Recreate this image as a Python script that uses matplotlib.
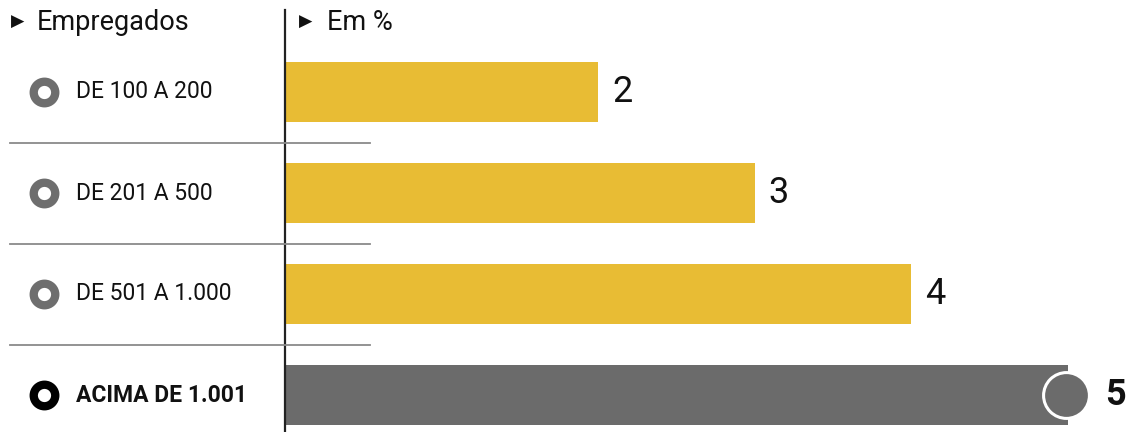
import numpy as np
import matplotlib.pyplot as plt
from matplotlib.transforms import blended_transform_factory

categories = ["DE 100 A 200", "DE 201 A 500", "DE 501 A 1.000", "ACIMA DE 1.001"]
values = [2, 3, 4, 5]
highlight = [False, False, False, True]

yellow = "#E8BC34"
grey = "#6B6B6B"
ring_grey = "#6E6E6E"

plt.rcParams['font.family'] = ['Roboto', 'DejaVu Sans']

fig = plt.figure(figsize=(11.3, 4.32), dpi=100)
ax = fig.add_axes([285/1130, 0, 845/1130, 1])
ax.set_xlim(0, 845/156.5)
ax.set_ylim((432-92)/101, -92/101)
ax.axis("off")

ypos = np.arange(len(values))
colors = [grey if h else yellow for h in highlight]
ax.barh(ypos, values, height=0.585, color=colors, left=0)

# axis line
ax.plot([0, 0], [-82/101, 3.4], color="#222222", lw=1.6, clip_on=False)

ftrans = blended_transform_factory(fig.transFigure, ax.transData)
for i in range(len(values) - 1):
    ax.plot([10/1130, 370/1130], [i + 0.5, i + 0.5], color="#8a8a8a", lw=1.3,
            transform=ftrans, clip_on=False)

for i, (cat, v, h) in enumerate(zip(categories, values, highlight)):
    ax.plot([44/1130], [i], marker="o", ms=15.5, mew=6.0, mfc="white",
            mec="black" if h else ring_grey, transform=ftrans, clip_on=False)
    ax.text(76/1130, i, cat, transform=ftrans, va="center", ha="left",
            fontsize=16.5, color="#111111", fontweight="bold" if h else "normal")
    if h:
        ax.plot([v - 0.012], [i], marker="o", ms=33, mfc=grey, mec="white", mew=2.2)
        ax.annotate(str(v), (v, i), xytext=(27, 0), textcoords="offset points",
                    va="center", ha="left", fontsize=26, fontweight="bold", color="#111111")
    else:
        ax.annotate(str(v), (v, i), xytext=(10, 0), textcoords="offset points",
                    va="center", ha="left", fontsize=26, color="#111111")

hy = 1 - 22/432
fig.text(11/1130, hy, "▶", va="center", ha="left", fontsize=12.5, color="#111111",
         family="DejaVu Sans")
fig.text(37/1130, hy, "Empregados", va="center", ha="left", fontsize=19.5, color="#111111")
fig.text(299/1130, hy, "▶", va="center", ha="left", fontsize=12.5, color="#111111",
         family="DejaVu Sans")
fig.text(327/1130, hy, "Em %", va="center", ha="left", fontsize=19.5, color="#111111")

fig.savefig("out.png", dpi=100, facecolor="white")
